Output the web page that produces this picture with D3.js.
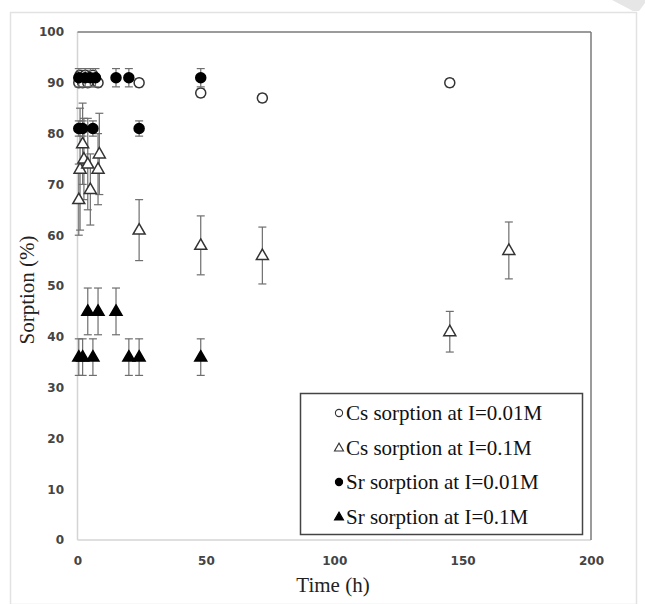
<!DOCTYPE html>
<html lang="en">
<head>
<meta charset="UTF-8">
<title>Sorption vs time</title>
<style>
  body { margin: 0; background: #fff; }
  svg { display: block; }
</style>
</head>
<body>
<svg width="645" height="604"></svg>
<script src="https://cdnjs.cloudflare.com/ajax/libs/d3/7.8.5/d3.min.js"></script>
<script>
  // values
  const xTicks = [0, 50, 100, 150, 200];
  const yTicks = [0, 10, 20, 30, 40, 50, 60, 70, 80, 90, 100];

  // Cs, I=0.01M (open circles)
  const csLowT = [0.5, 1, 2, 3, 4, 6, 8, 24, 48, 72, 145];
  const csLowV = [90, 91.5, 90, 91.5, 90, 91.5, 90, 90, 88, 87, 90];
  const csLowE = [0.8, 0.8, 0.8, 0.8, 0.8, 0.8, 0.8, 0.8, 0.8, 0.8, 0.8];

  // Cs, I=0.1M (open triangles)
  const csHighT = [0.5, 1, 2, 2.5, 4, 5, 8, 8.5, 24, 48, 72, 145, 168];
  const csHighV = [67, 73, 78, 75, 74, 69, 73, 76, 61, 58, 56, 41, 57];
  const csHighE = [7, 12, 8, 8, 9, 7, 7, 8, 6, 5.8, 5.6, 4, 5.6];

  // Sr, I=0.01M (filled circles)
  const srLowT = [0.5, 3, 5, 7, 15, 20, 48, 0.5, 2, 6, 24];
  const srLowV = [91, 91, 91, 91, 91, 91, 91, 81, 81, 81, 81];
  const srLowE = [1.8, 1.8, 1.8, 1.8, 1.8, 1.8, 1.8, 1.5, 1.5, 1.5, 1.5];

  // Sr, I=0.1M (filled triangles)
  const srHighT = [0.5, 2, 6, 4, 8, 15, 20, 24, 48];
  const srHighV = [36, 36, 36, 45, 45, 45, 36, 36, 36];
  const srHighE = [3.6, 3.6, 3.6, 4.6, 4.6, 4.6, 3.6, 3.6, 3.6];

  const series = [
    { name: 'Cs sorption at I=0.01M', t: csLowT, v: csLowV, e: csLowE, shape: 'circle', filled: false },
    { name: 'Cs sorption at I=0.1M', t: csHighT, v: csHighV, e: csHighE, shape: 'triangle', filled: false },
    { name: 'Sr sorption at I=0.01M', t: srLowT, v: srLowV, e: srLowE, shape: 'circle', filled: true },
    { name: 'Sr sorption at I=0.1M', t: srHighT, v: srHighV, e: srHighE, shape: 'triangle', filled: true }
  ];

  const svg = d3.select('svg');

  // faint watermark corner + outer picture frame
  svg.append('path')
    .attr('d', 'M592,0 L612,0 L633,11 L639,11 L645,3 L645,0 Z')
    .attr('fill', '#e6e6e6');
  svg.append('rect')
    .attr('x', 10.5).attr('y', 12.5)
    .attr('width', 626).attr('height', 592)
    .attr('fill', 'none')
    .attr('stroke', '#e2e2e2')
    .attr('stroke-width', 1.5);

  const x = d3.scaleLinear().domain([0, 200]).range([77.5, 591]);
  const y = d3.scaleLinear().domain([0, 100]).range([540, 32]);

  // plot frame
  const [x0, x1] = x.range(), [y0, y1] = y.range();
  svg.append('line').attr('x1', x0).attr('x2', x0).attr('y1', y1).attr('y2', y0)
    .attr('stroke', '#d4d4d4').attr('stroke-width', 1.5);
  svg.append('line').attr('x1', x0).attr('x2', x1).attr('y1', y0).attr('y2', y0)
    .attr('stroke', '#d4d4d4').attr('stroke-width', 1.5);
  svg.append('line').attr('x1', x0).attr('x2', x1).attr('y1', y1).attr('y2', y1)
    .attr('stroke', '#7a7a7a').attr('stroke-width', 1.5);
  svg.append('line').attr('x1', x1).attr('x2', x1).attr('y1', y1).attr('y2', y0)
    .attr('stroke', '#7a7a7a').attr('stroke-width', 1.5);

  // axes (labels only, no tick marks)
  const tickFont = g => g.selectAll('text')
    .attr('font-family', '"DejaVu Sans", Verdana, sans-serif')
    .attr('font-weight', 'bold')
    .attr('font-size', 12)
    .attr('fill', '#444');

  const yAxis = svg.append('g')
    .attr('transform', 'translate(64,0)')
    .call(d3.axisLeft(y).tickValues(yTicks).tickSize(0).tickPadding(0));
  yAxis.select('.domain').remove();
  yAxis.call(tickFont);

  const xAxis = svg.append('g')
    .attr('transform', 'translate(0,556)')
    .call(d3.axisBottom(x).tickValues(xTicks).tickSize(0).tickPadding(0));
  xAxis.select('.domain').remove();
  xAxis.call(tickFont);

  // axis titles
  svg.append('text')
    .attr('transform', 'translate(34,290) rotate(-90)')
    .attr('text-anchor', 'middle')
    .attr('font-family', '"Liberation Serif", "Times New Roman", serif')
    .attr('font-size', 21)
    .attr('fill', '#222')
    .text('Sorption (%)');
  svg.append('text')
    .attr('x', 333).attr('y', 592)
    .attr('text-anchor', 'middle')
    .attr('font-family', '"Liberation Serif", "Times New Roman", serif')
    .attr('font-size', 21)
    .attr('fill', '#222')
    .text('Time (h)');

  const circleSym = r => d3.symbol().type(d3.symbolCircle).size(Math.PI * r * r)();
  function triPath(s) {
    const h = s * 0.87;
    return `M0,${-h * 0.62}L${s / 2},${h * 0.38}L${-s / 2},${h * 0.38}Z`;
  }

  // points + error bars, one series at a time
  const cap = 4;
  for (const s of series) {
    const pts = s.t.map((t, i) => ({ t, v: s.v[i], e: s.e[i] }));
    const g = svg.append('g');

    const eb = g.selectAll('g.err').data(pts).enter().append('g')
      .attr('class', 'err')
      .attr('stroke', '#6e6e6e')
      .attr('stroke-width', 1.2);
    eb.append('line')
      .attr('x1', d => x(d.t)).attr('x2', d => x(d.t))
      .attr('y1', d => y(d.v - d.e)).attr('y2', d => y(d.v + d.e));
    eb.append('line')
      .attr('x1', d => x(d.t) - cap).attr('x2', d => x(d.t) + cap)
      .attr('y1', d => y(d.v + d.e)).attr('y2', d => y(d.v + d.e));
    eb.append('line')
      .attr('x1', d => x(d.t) - cap).attr('x2', d => x(d.t) + cap)
      .attr('y1', d => y(d.v - d.e)).attr('y2', d => y(d.v - d.e));

    g.selectAll('path.pt').data(pts).enter().append('path')
      .attr('class', 'pt')
      .attr('transform', d => `translate(${x(d.t)},${y(d.v)})`)
      .attr('d', s.shape === 'circle' ? circleSym(5) : triPath(12))
      .attr('fill', s.filled ? '#000' : '#fff')
      .attr('stroke', s.filled ? '#000' : '#333')
      .attr('stroke-width', 1.5);
  }

  // legend
  const lg = svg.append('g');
  lg.append('rect')
    .attr('x', 300.5).attr('y', 393.5)
    .attr('width', 282).attr('height', 141)
    .attr('fill', '#fff')
    .attr('stroke', '#444')
    .attr('stroke-width', 1.5);
  const rowY = [413, 448, 482, 517];
  series.forEach((s, i) => {
    lg.append('path')
      .attr('transform', `translate(339,${rowY[i]})`)
      .attr('d', s.shape === 'circle' ? circleSym(3.6) : triPath(9))
      .attr('fill', s.filled ? '#000' : '#fff')
      .attr('stroke', s.filled ? '#000' : '#333')
      .attr('stroke-width', 1.1);
    lg.append('text')
      .attr('x', 346).attr('y', rowY[i] + 7)
      .attr('font-family', '"Liberation Serif", "Times New Roman", serif')
      .attr('font-size', 21)
      .attr('fill', '#111')
      .text(s.name);
  });
</script>
</body>
</html>
